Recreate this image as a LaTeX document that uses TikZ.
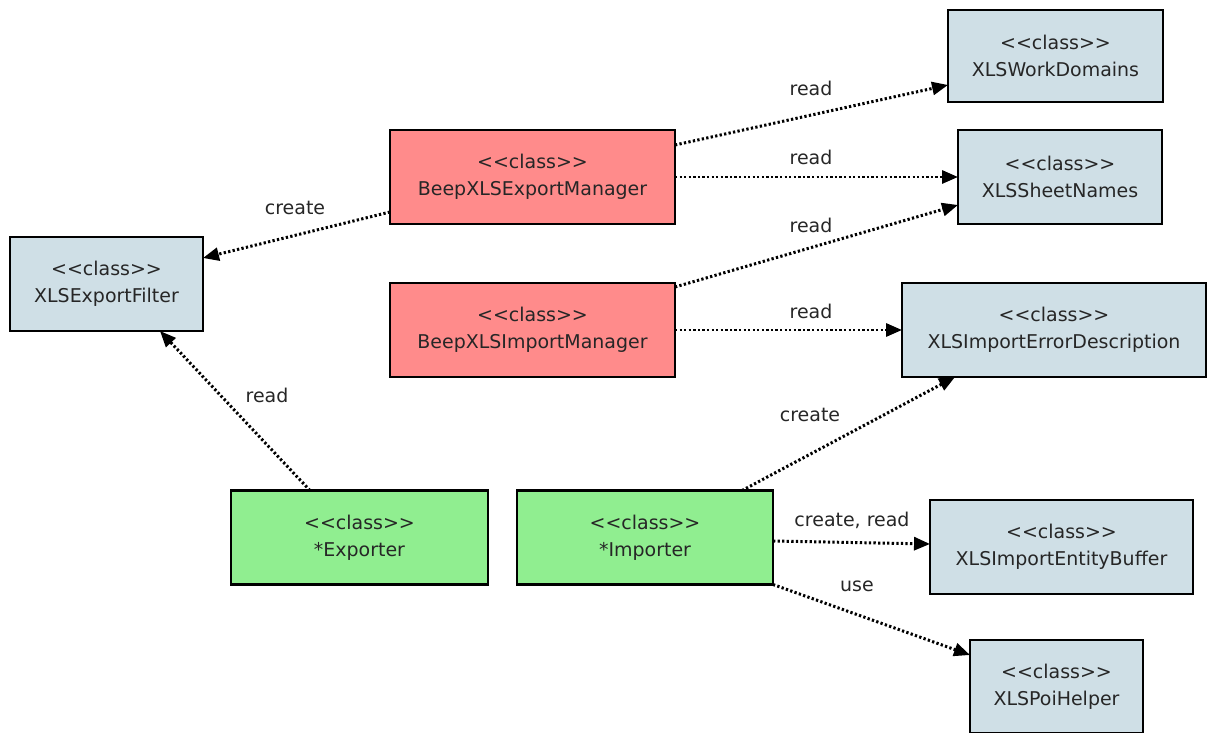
\documentclass[tikz,border=0pt]{standalone}
\usepackage{fontspec}
\setmainfont{DejaVu Sans}[Ligatures=TeXOff]
\usepackage{tikz}
\usetikzlibrary{positioning,arrows.meta,calc}
\definecolor{clsblue}{HTML}{CFDFE6}
\definecolor{clsred}{HTML}{FF8B8B}
\definecolor{clsgreen}{HTML}{90EE90}

\begin{document}
\begin{tikzpicture}[x=0.02cm,y=-0.02cm,
  cls/.style={draw=black,line width=1.5pt,outer sep=0pt,align=center,text=black!85,
    font=\fontsize{10.8}{15.4}\selectfont,minimum height=1.88cm},
  dep/.style={line width=1.7pt,dash pattern=on 1.3pt off 1.3pt,-{Triangle[length=0.32cm,width=0.26cm]}},
  lbl/.style={text=black!85,font=\fontsize{10.8}{12}\selectfont}]
  \useasboundingbox (0,0) rectangle (1207,733);
  % classes
  \node[cls,fill=clsblue,minimum width=4.3cm,minimum height=1.84cm] (work) at (1055.5,56) {<<class>>\\XLSWorkDomains};
  \node[cls,fill=clsblue,minimum width=4.08cm] (sheet) at (1060,177) {<<class>>\\XLSSheetNames};
  \node[cls,fill=clsred,minimum width=5.7cm] (emgr) at (532.5,177) {<<class>>\\BeepXLSExportManager};
  \node[cls,fill=clsblue,minimum width=3.86cm] (filter) at (106.5,284) {<<class>>\\XLSExportFilter};
  \node[cls,fill=clsred,minimum width=5.7cm] (imgr) at (532.5,330) {<<class>>\\BeepXLSImportManager};
  \node[cls,fill=clsblue,minimum width=6.08cm] (errdesc) at (1054,330) {<<class>>\\XLSImportErrorDescription};
  \node[cls,fill=clsgreen,minimum width=5.14cm] (exp) at (359.5,537.5) {<<class>>\\*Exporter};
  \node[cls,fill=clsgreen,minimum width=5.12cm] (imp) at (645,537.5) {<<class>>\\*Importer};
  \node[cls,fill=clsblue,minimum width=5.26cm] (buf) at (1061.5,547) {<<class>>\\XLSImportEntityBuffer};
  \node[cls,fill=clsblue,minimum width=3.46cm,minimum height=1.86cm] (poi) at (1056.5,686.5) {<<class>>\\XLSPoiHelper};
  % dependencies
  \draw[dep] ([yshift=0.64cm]emgr.east) -- ([yshift=-0.58cm]work.west);
  \draw[dep] (emgr.east) -- (sheet.west);
  \draw[dep] ([yshift=0.86cm]imgr.east) -- ([yshift=-0.56cm]sheet.west);
  \draw[dep] (imgr.east) -- (errdesc.west);
  \draw[dep] ([yshift=-0.7cm]emgr.west) -- ([yshift=0.52cm]filter.east);
  \draw[dep] ([xshift=-0.99cm]exp.north) -- ([xshift=1.07cm]filter.south);
  \draw[dep] ([xshift=1.94cm]imp.north) -- ([xshift=-1.98cm]errdesc.south);
  \draw[dep] ([yshift=-0.07cm]imp.east) -- ([yshift=0.06cm]buf.west);
  \draw[dep] (imp.south east) -- ([yshift=0.63cm]poi.west);
  % labels
  \node[lbl] (l1) at (811,88) {read};
  \node[lbl] (l2) at (811,157) {read};
  \node[lbl] (l3) at (811,225) {read};
  \node[lbl] (l4) at (811,311) {read};
  \node[lbl] (l5) at (295,208) {create};
  \node[lbl] (l6) at (267,395) {read};
  \node[lbl] (l7) at (810,415) {create};
  \node[lbl] (l8) at (852,520) {create, read};
  \node[lbl] (l9) at (857,586) {use};
\end{tikzpicture}
\end{document}
